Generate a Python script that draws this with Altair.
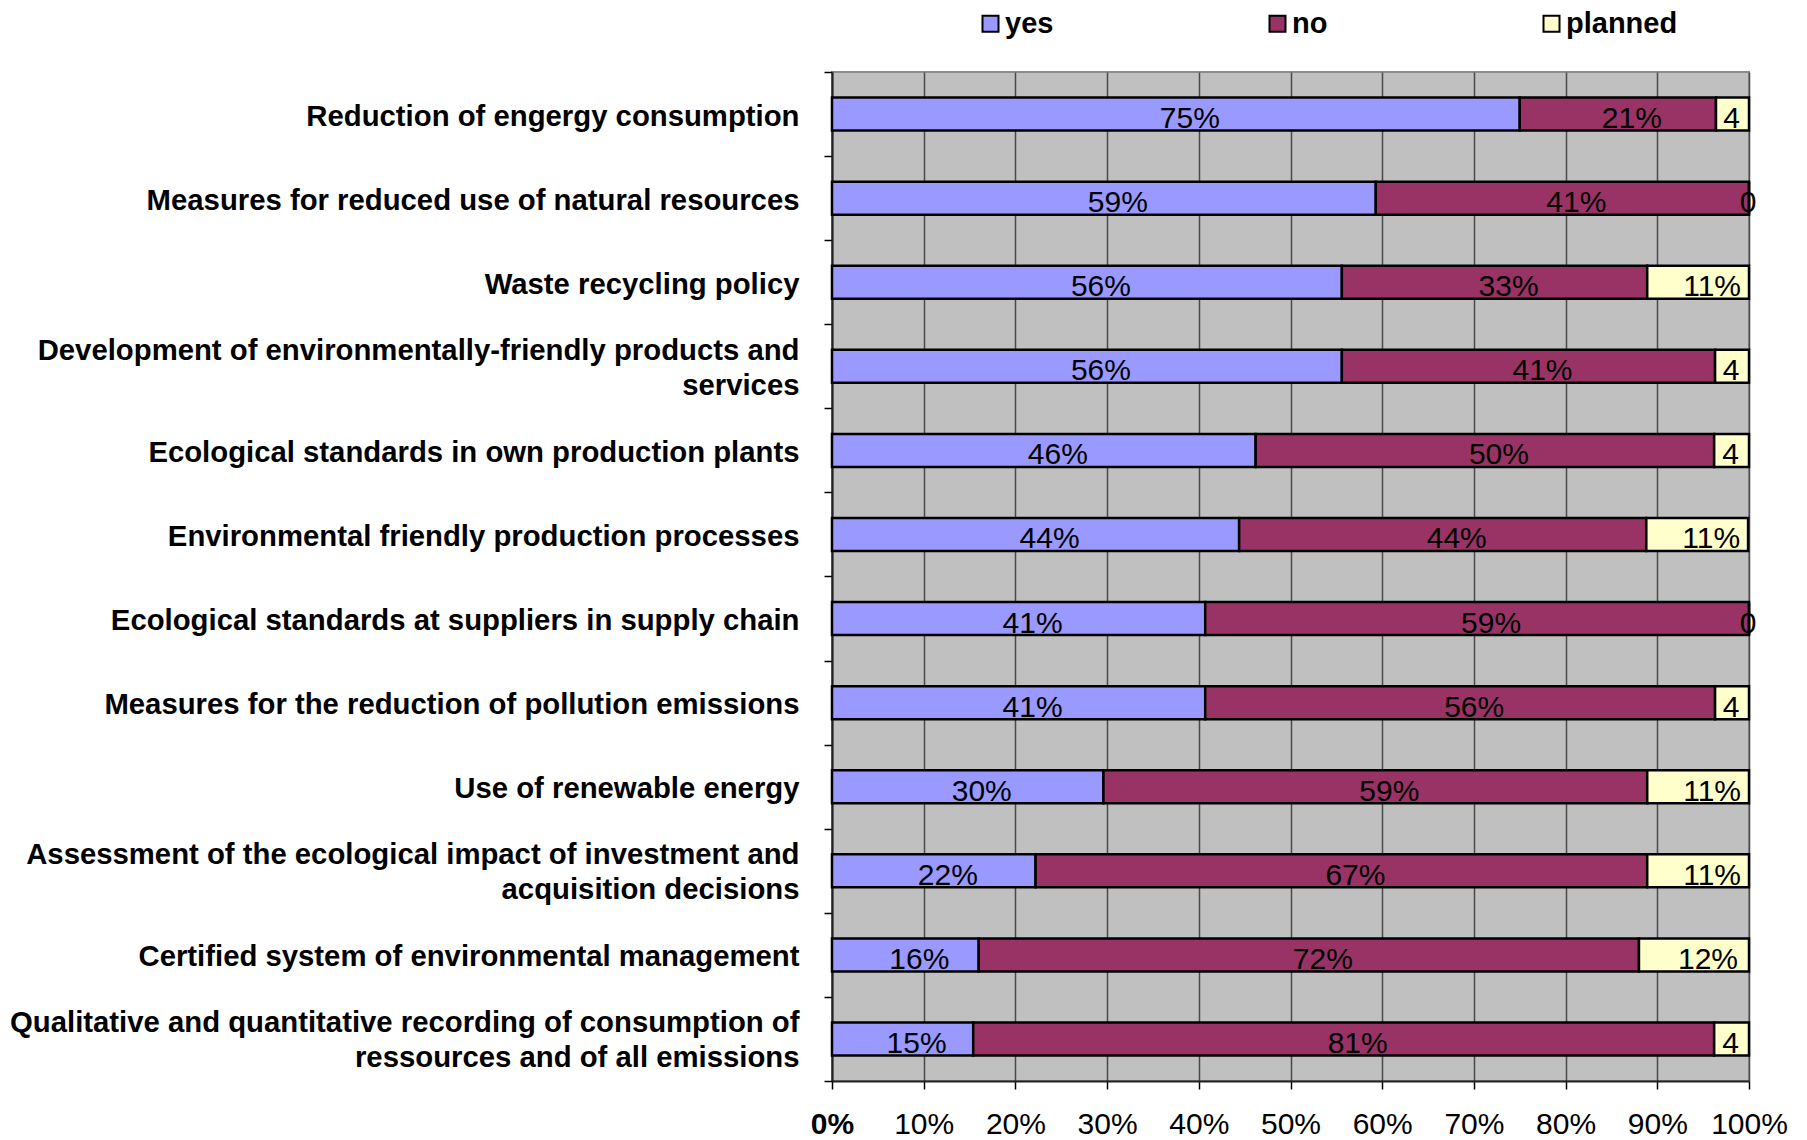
import altair as alt
import pandas as pd

categories = [
    "Reduction of engergy consumption",
    "Measures for reduced use of natural resources",
    "Waste recycling policy",
    "Development of environmentally-friendly products and|services",
    "Ecological standards in own production plants",
    "Environmental friendly production processes",
    "Ecological standards at suppliers in supply chain\u00a0",
    "Measures for the reduction of pollution emissions",
    "Use of renewable energy",
    "Assessment of the ecological impact of investment and|acquisition decisions",
    "Certified system of environmental management",
    "Qualitative and quantitative recording of consumption of|ressources and of all emissions",
]
yes = [75.0, 59.3, 55.6, 55.6, 46.2, 44.4, 40.7, 40.7, 29.6, 22.2, 16.0, 15.4]
no = [21.4, 40.7, 33.3, 40.7, 50.0, 44.4, 59.3, 55.6, 59.3, 66.7, 72.0, 80.8]
planned = [3.6, 0.0, 11.1, 3.7, 3.8, 11.1, 0.0, 3.7, 11.1, 11.1, 12.0, 3.8]
series = ["yes", "no", "planned"]
colors = ["#9999FF", "#993366", "#FFFFCC"]
x_ticks = [0, 10, 20, 30, 40, 50, 60, 70, 80, 90, 100]

rows = []
for i, cat in enumerate(categories):
    start = 0.0
    for s, vals in zip(series, [yes, no, planned]):
        v = vals[i]
        end = start + v
        r = round(v)
        short = s == "planned" and v < 5
        label = str(r) if short else f"{r}%"
        rows.append({
            "category": cat, "series": s, "order": series.index(s),
            "start": start / 100, "end": end / 100, "mid": (start + end) / 200,
            "label": label, "short": short,
        })
        start = end
df = pd.DataFrame(rows)

y_enc = alt.Y(
    "category:N", sort=categories,
    scale=alt.Scale(paddingInner=0, paddingOuter=0),
    axis=alt.Axis(
        title=None, labelFontSize=29.3, labelFontWeight="bold", labelColor="black",
        labelExpr="split(datum.label, '|')", labelLineHeight=35, labelLimit=900,
        labelBaseline={"condition": {"test": "indexof(datum.label, '|') >= 0", "value": "line-bottom"}, "value": "middle"},
        labelOffset=2,
        labelPadding=25, tickSize=8, tickBand="extent", tickColor="black",
        tickWidth=1.5, domainColor="#222222", domainWidth=2, grid=False,
    ),
)
x_scale = alt.Scale(domain=[0, 1], nice=False, zero=True)
x_axis = alt.Axis(
    title=None, values=[t / 100 for t in x_ticks], format=".0%",
    labelFontSize=30, labelColor="black",
    labelFontWeight={"condition": {"test": "datum.value === 0", "value": "bold"}, "value": "normal"},
    labelPadding=20, labelFlush=False, tickSize=8, tickColor="black", tickWidth=1.5,
    grid=True, gridColor="#4a4a4a", gridWidth=1.5,
    domainColor="#222222", domainWidth=2,
)

bars = alt.Chart(df).mark_bar(stroke="black", strokeWidth=2.5, size=33).encode(
    y=y_enc,
    x=alt.X("start:Q", scale=x_scale, axis=x_axis),
    x2="end:Q",
    color=alt.Color(
        "series:N", sort=series,
        scale=alt.Scale(domain=series, range=colors),
        legend=alt.Legend(
            orient="none", legendX=144, legendY=-63, direction="horizontal",
            columns=3, title=None, symbolType="square", symbolSize=256,
            symbolStrokeColor="black", symbolStrokeWidth=2, symbolOpacity=1,
            labelFontSize=29, labelFontWeight="bold", labelColor="black",
            labelOffset=0, columnPadding=209,
        ),
    ),
    order="order:Q",
)

labels_full = alt.Chart(df).transform_filter("!datum.short").mark_text(
    fontSize=30, dx=14, dy=14, baseline="alphabetic", align="center", color="black"
).encode(y=alt.Y("category:N", sort=categories), x="mid:Q", text="label:N")

labels_short = alt.Chart(df).transform_filter("datum.short").mark_text(
    fontSize=30, dx=-1, dy=14, baseline="alphabetic", align="center", color="black"
).encode(y=alt.Y("category:N", sort=categories), x="mid:Q", text="label:N")

chart = alt.layer(bars, labels_full, labels_short).properties(
    width=917, height=1009,
    autosize=alt.AutoSizeParams(type="none"),
    padding={"left": 824, "top": 64, "right": 40, "bottom": 62},
).configure(font="Liberation Sans").configure_view(
    fill="#C0C0C0", stroke="#8c8c8c", strokeWidth=2
)

chart.save("out.html", embed_options={"renderer": "svg", "actions": False})
